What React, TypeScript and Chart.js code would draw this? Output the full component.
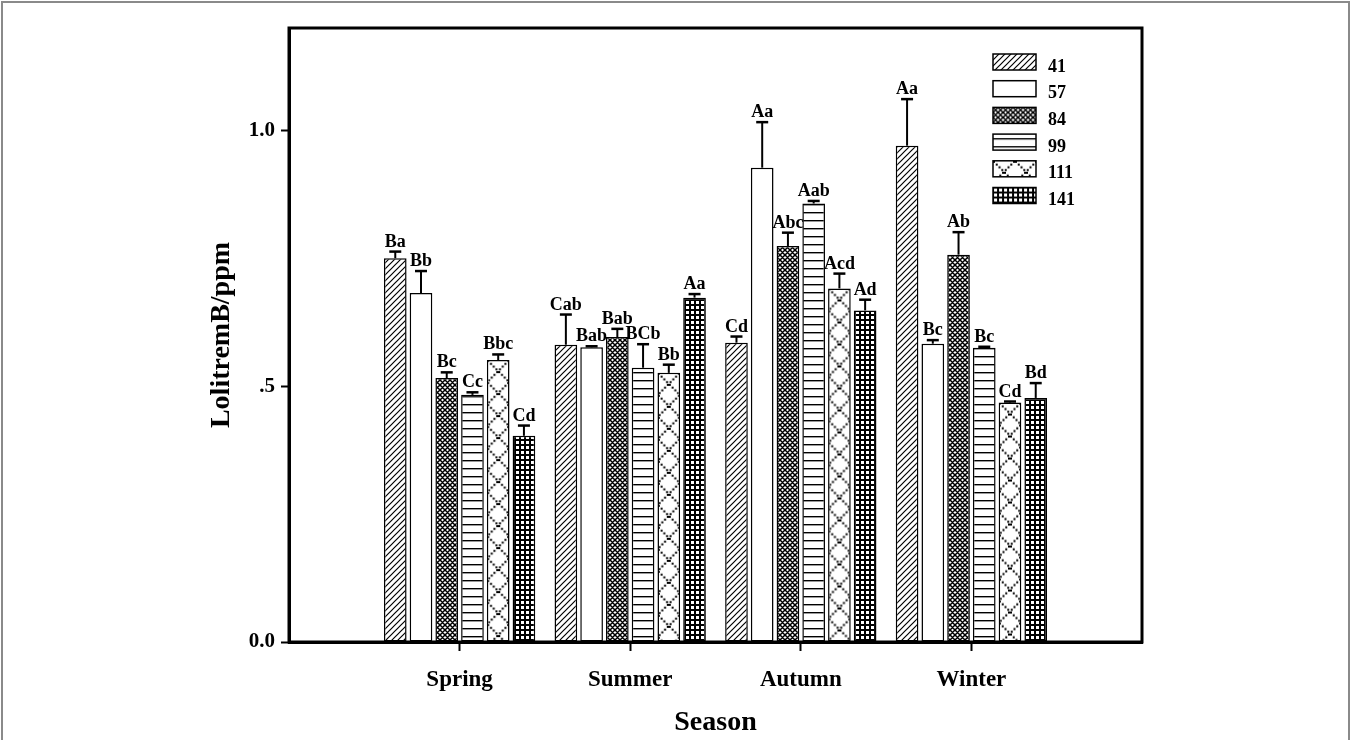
import React, { useEffect, useRef } from 'react';
import { Chart, registerables } from 'chart.js';

Chart.register(...registerables);

// ---------- data ----------
const seasons = ['Spring', 'Summer', 'Autumn', 'Winter'];
const seriesNames = ['41', '57', '84', '99', '111', '141'];

const values41 = [0.75, 0.581, 0.585, 0.97];
const values57 = [0.682, 0.576, 0.927, 0.583];
const values84 = [0.516, 0.596, 0.774, 0.757];
const values99 = [0.483, 0.536, 0.857, 0.575];
const values111 = [0.551, 0.526, 0.691, 0.468];
const values141 = [0.403, 0.673, 0.648, 0.477];

const errors41 = [0.013, 0.059, 0.012, 0.091];
const errors57 = [0.043, 0.002, 0.089, 0.007];
const errors84 = [0.011, 0.016, 0.026, 0.044];
const errors99 = [0.005, 0.046, 0.005, 0.002];
const errors111 = [0.011, 0.016, 0.029, 0.002];
const errors141 = [0.02, 0.007, 0.021, 0.029];

const letters41 = ['Ba', 'Cab', 'Cd', 'Aa'];
const letters57 = ['Bb', 'Bab', 'Aa', 'Bc'];
const letters84 = ['Bc', 'Bab', 'Abc', 'Ab'];
const letters99 = ['Cc', 'BCb', 'Aab', 'Bc'];
const letters111 = ['Bbc', 'Bb', 'Acd', 'Cd'];
const letters141 = ['Cd', 'Aa', 'Ad', 'Bd'];

const yTicks = [0, 0.5, 1.0];
const yTickLabels = ['0.0', '.5', '1.0'];

const allValues = [values41, values57, values84, values99, values111, values141];
const allErrors = [errors41, errors57, errors84, errors99, errors111, errors141];
const allLetters = [letters41, letters57, letters84, letters99, letters111, letters141];
const patternKinds = ['diag', 'none', 'cross', 'hlines', 'diamond', 'grid'];

// x axis: empty slots at both ends so the four seasons sit at 1..4 of 0..5
const xLabels = ['', ...seasons, ''];

const FONT = "'Liberation Serif', 'Times New Roman', serif";

// ---------- patterns ----------
function tile(w: number, h: number, draw: (c: CanvasRenderingContext2D) => void) {
  const cv = document.createElement('canvas');
  cv.width = w;
  cv.height = h;
  const c = cv.getContext('2d') as CanvasRenderingContext2D;
  draw(c);
  return cv;
}

function makePattern(ctx: CanvasRenderingContext2D, kind: string): CanvasPattern | string {
  if (kind === 'none') return '#ffffff';
  let cv: HTMLCanvasElement;
  if (kind === 'diag') {
    cv = tile(6, 6, (c) => {
      c.fillStyle = '#fff';
      c.fillRect(0, 0, 6, 6);
      c.strokeStyle = '#000';
      c.lineWidth = 1.2;
      c.beginPath();
      c.moveTo(0, 6); c.lineTo(6, 0);
      c.moveTo(-1, 1); c.lineTo(1, -1);
      c.moveTo(5, 7); c.lineTo(7, 5);
      c.stroke();
    });
  } else if (kind === 'cross') {
    cv = tile(5, 5, (c) => {
      c.fillStyle = '#fff';
      c.fillRect(0, 0, 5, 5);
      c.strokeStyle = '#000';
      c.lineWidth = 1.5;
      c.beginPath();
      c.moveTo(0, 5); c.lineTo(5, 0);
      c.moveTo(-1, 1); c.lineTo(1, -1);
      c.moveTo(4, 6); c.lineTo(6, 4);
      c.moveTo(0, 0); c.lineTo(5, 5);
      c.moveTo(-1, 4); c.lineTo(1, 6);
      c.moveTo(4, -1); c.lineTo(6, 1);
      c.stroke();
    });
  } else if (kind === 'hlines') {
    cv = tile(8, 8, (c) => {
      c.fillStyle = '#fff';
      c.fillRect(0, 0, 8, 8);
      c.fillStyle = '#000';
      c.fillRect(0, 4, 8, 1.4);
    });
  } else if (kind === 'diamond') {
    const P = 22;
    cv = tile(P, P, (c) => {
      c.fillStyle = '#fff';
      c.fillRect(0, 0, P, P);
      c.fillStyle = '#000';
      for (let i = 0; i < P; i += 2.75) {
        c.fillRect(i, i, 2, 2);
        c.fillRect(P - i - 2, i, 2, 2);
      }
    });
  } else {
    cv = tile(5, 5, (c) => {
      c.fillStyle = '#000';
      c.fillRect(0, 0, 5, 5);
      c.fillStyle = '#fff';
      c.fillRect(1, 1, 3, 3);
    });
  }
  return ctx.createPattern(cv, 'repeat') as CanvasPattern;
}

export default function App() {
  const canvasRef = useRef<HTMLCanvasElement | null>(null);

  useEffect(() => {
    const canvas = canvasRef.current;
    if (!canvas) return;
    const ctx = canvas.getContext('2d') as CanvasRenderingContext2D;
    const patterns = patternKinds.map((k) => makePattern(ctx, k));

    const backgroundPlugin = {
      id: 'bgFrame',
      beforeDraw(chart: any) {
        const c = chart.ctx;
        c.save();
        c.fillStyle = '#fff';
        c.fillRect(0, 0, chart.width, chart.height);
        c.strokeStyle = '#8a8a8a';
        c.lineWidth = 2;
        c.beginPath();
        c.moveTo(2, chart.height + 5);
        c.lineTo(2, 2);
        c.lineTo(chart.width - 2, 2);
        c.lineTo(chart.width - 2, chart.height + 5);
        c.stroke();
        c.restore();
      },
    };

    const alignPlugin = {
      id: 'alignDiamond',
      beforeDatasetDraw(chart: any, args: any) {
        if (args.index !== 4) return;
        const meta = chart.getDatasetMeta(4);
        meta.data.forEach((el: any) => {
          if (!el || el.x == null || isNaN(el.x) || isNaN(el.y)) return;
          const p = makePattern(chart.ctx, 'diamond') as CanvasPattern;
          try {
            p.setTransform(new DOMMatrix([1, 0, 0, 1, el.x - 11, el.y]));
          } catch (e) { /* ignore */ }
          el.options = { ...el.options, backgroundColor: p };
        });
      },
    };

    const errorPlugin = {
      id: 'errorBars',
      afterDatasetsDraw(chart: any) {
        const c = chart.ctx;
        const ys = chart.scales.y;
        const area = chart.chartArea;
        c.save();
        // frame
        c.strokeStyle = '#000';
        c.lineWidth = 3;
        c.strokeRect(area.left, area.top, area.right - area.left, area.bottom - area.top);
        // error bars
        for (let d = 0; d < allValues.length; d++) {
          const meta = chart.getDatasetMeta(d);
          for (let j = 0; j < seasons.length; j++) {
            const el = meta.data[j + 1];
            if (!el) continue;
            const v = allValues[d][j];
            const e = allErrors[d][j];
            const yTop = ys.getPixelForValue(v + e);
            c.strokeStyle = '#000';
            c.lineWidth = 2;
            c.beginPath();
            c.moveTo(el.x, el.y);
            c.lineTo(el.x, yTop);
            c.stroke();
            c.lineWidth = 2.5;
            c.beginPath();
            c.moveTo(el.x - 6, yTop);
            c.lineTo(el.x + 6, yTop);
            c.stroke();
          }
        }
        // letters
        c.fillStyle = '#000';
        c.font = `bold 18px ${FONT}`;
        c.textAlign = 'center';
        c.textBaseline = 'alphabetic';
        for (let d = 0; d < allValues.length; d++) {
          const meta = chart.getDatasetMeta(d);
          for (let j = 0; j < seasons.length; j++) {
            const el = meta.data[j + 1];
            if (!el) continue;
            const yTop = ys.getPixelForValue(allValues[d][j] + allErrors[d][j]);
            c.fillText(allLetters[d][j], el.x, yTop - 5);
          }
        }
        c.restore();
      },
      afterDraw(chart: any) {
        const c = chart.ctx;
        const area = chart.chartArea;
        const bx = area.right - 149;
        const by = area.top + 26;
        c.save();
        c.font = `bold 18px ${FONT}`;
        c.textAlign = 'left';
        c.textBaseline = 'alphabetic';
        for (let i = 0; i < seriesNames.length; i++) {
          const y0 = by + i * 26.7;
          c.fillStyle = '#fff';
          c.fillRect(bx, y0, 43, 16);
          const pat = makePattern(c, patternKinds[i]);
          if (typeof pat !== 'string') {
            try { pat.setTransform(new DOMMatrix([1, 0, 0, 1, bx, y0])); } catch (e) { /* ignore */ }
          }
          c.fillStyle = pat as any;
          c.fillRect(bx, y0, 43, 16);
          c.strokeStyle = '#000';
          c.lineWidth = 1.5;
          c.strokeRect(bx, y0, 43, 16);
          c.fillStyle = '#000';
          c.fillText(seriesNames[i], bx + 55, y0 + 17.5);
        }
        c.restore();
      },
    };

    const chart = new Chart(canvas, {
      type: 'bar',
      data: {
        labels: xLabels,
        datasets: seriesNames.map((name, i) => ({
          label: name,
          data: [null, ...allValues[i], null],
          backgroundColor: patterns[i] as any,
          borderColor: '#000',
          borderWidth: 1.5,
          borderSkipped: false,
          categoryPercentage: 0.905,
          barPercentage: 0.88,
        })),
      },
      options: {
        responsive: false,
        animation: false,
        layout: { padding: { top: 28, right: 209, left: 0, bottom: 0 } },
        plugins: {
          legend: { display: false },
          tooltip: { enabled: false },
        },
        scales: {
          x: {
            type: 'category',
            offset: false,
            grid: {
              display: true,
              drawOnChartArea: false,
              drawTicks: true,
              offset: false,
              tickLength: 9,
              tickWidth: 2,
              tickColor: (c: any) =>
                c.index === 0 || c.index === xLabels.length - 1 ? 'rgba(0,0,0,0)' : '#000',
            },
            border: { display: true, color: '#000', width: 3 },
            ticks: {
              color: '#000',
              font: { family: FONT, size: 23, weight: 'bold' },
              padding: 15,
              maxRotation: 0,
              autoSkip: false,
            },
            title: {
              display: true,
              text: 'Season',
              color: '#000',
              font: { family: FONT, size: 28, weight: 'bold' },
              padding: { top: 0, bottom: 0 },
            },
            afterFit: (s: any) => {
              s.height = 98;
            },
          },
          y: {
            type: 'linear',
            min: 0,
            max: 1.2,
            afterBuildTicks: (s: any) => {
              s.ticks = yTicks.map((v) => ({ value: v }));
            },
            grid: {
              display: true,
              drawOnChartArea: false,
              drawTicks: true,
              tickLength: 8,
              tickWidth: 2,
              tickColor: '#000',
            },
            border: { display: true, color: '#000', width: 3 },
            ticks: {
              color: '#000',
              font: { family: FONT, size: 21, weight: 'bold' },
              padding: 6,
              callback: (v: any) => {
                const k = yTicks.indexOf(Number(v));
                return k >= 0 ? yTickLabels[k] : '';
              },
            },
            title: {
              display: true,
              text: 'LolitremB/ppm',
              color: '#000',
              font: { family: FONT, size: 28, weight: 'bold' },
              padding: { top: 205, bottom: 0 },
            },
            afterFit: (s: any) => {
              s.width = 289;
            },
          },
        },
      },
      plugins: [backgroundPlugin, alignPlugin, errorPlugin],
    } as any);

    return () => {
      chart.destroy();
    };
  }, []);

  return (
    <div style={{ position: 'fixed', left: 0, top: 0, width: 1351, height: 740, background: '#fff' }}>
      <canvas ref={canvasRef} width={1351} height={740} style={{ display: 'block', width: 1351, height: 740 }} />
    </div>
  );
}
